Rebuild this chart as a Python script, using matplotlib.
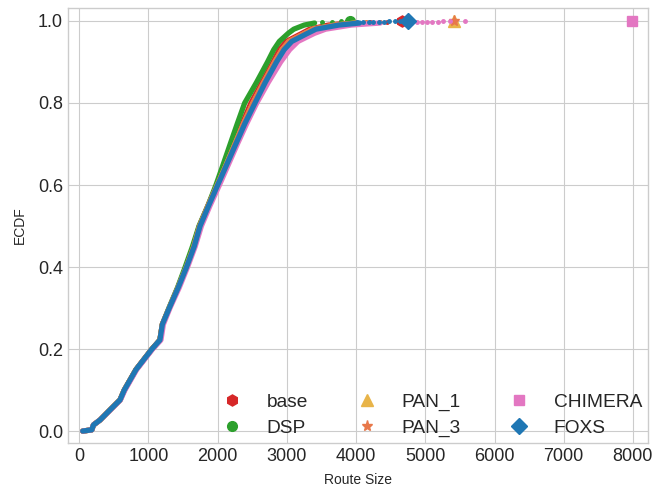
import numpy as np
import matplotlib.pyplot as plt
from matplotlib.lines import Line2D

plt.style.use('seaborn-v0_8-whitegrid')
plt.rcParams['font.family'] = ['Liberation Sans', 'DejaVu Sans']

levels = [0.0, 0.003, 0.015, 0.027, 0.05, 0.076, 0.1, 0.15, 0.2, 0.222, 0.26,
          0.3, 0.35, 0.4, 0.45, 0.5, 0.55, 0.6, 0.65, 0.7, 0.75, 0.8, 0.85,
          0.9, 0.93, 0.95, 0.97, 0.98, 0.99, 0.995]

base_x = [50, 180, 205, 300, 435, 589, 650, 820, 1050, 1165, 1200,
          1300, 1425, 1545, 1650, 1735, 1860, 1990, 2115, 2235, 2355, 2480, 2640,
          2800, 2890, 2990, 3220, 3330, 3600, 3900]
dsp_x = [50, 180, 205, 300, 435, 589, 650, 820, 1050, 1165, 1200,
         1295, 1420, 1530, 1635, 1730, 1860, 1975, 2079, 2181, 2284, 2390, 2560,
         2720, 2810, 2890, 3020, 3100, 3250, 3400]
pan1_x = [50, 180, 205, 300, 435, 589, 650, 820, 1050, 1165, 1200,
          1300, 1428, 1548, 1655, 1740, 1865, 1995, 2125, 2250, 2375, 2510, 2665,
          2825, 2930, 3030, 3260, 3380, 3700, 4000]
pan3_x = [50, 180, 205, 300, 435, 589, 650, 820, 1050, 1165, 1200,
          1300, 1428, 1548, 1655, 1740, 1865, 1995, 2125, 2250, 2375, 2510, 2665,
          2825, 2930, 3030, 3260, 3380, 3700, 4000]
chimera_x = [50, 180, 205, 300, 440, 595, 660, 830, 1060, 1180, 1215,
             1310, 1445, 1565, 1675, 1765, 1890, 2025, 2155, 2285, 2420, 2565, 2730,
             2910, 3040, 3160, 3400, 3560, 3930, 4350]
foxs_x = [50, 180, 205, 300, 435, 589, 650, 820, 1050, 1165, 1200,
          1300, 1430, 1550, 1660, 1745, 1870, 2000, 2131, 2262, 2393, 2539, 2687,
          2850, 2960, 3070, 3300, 3420, 3750, 4050]

# scattered tail points near ECDF = 1 and the last (largest) route
base_tail = [4000, 4200, 4450, 4600]
base_tail_y = [0.996, 0.997, 0.998, 0.999]
base_max = 4670
dsp_tail = [3500, 3650, 3780]
dsp_tail_y = [0.997, 0.998, 0.999]
dsp_max = 3910
pan1_tail = [4150, 4340, 4700]
pan1_tail_y = [0.997, 0.998, 0.999]
pan1_max = 5410
pan3_tail = [4150, 4340, 4700]
pan3_tail_y = [0.997, 0.998, 0.999]
pan3_max = 5410
chimera_tail = [4800, 4880, 4950, 5030, 5100, 5180, 5260, 5350, 5570]
chimera_tail_y = [0.996, 0.9965, 0.997, 0.9975, 0.998, 0.9985, 0.999, 0.9993, 0.9996]
chimera_max = 7980
foxs_tail = [3950, 4020, 4100, 4180, 4250, 4330, 4400, 4480, 4560, 4640]
foxs_tail_y = [0.996, 0.9964, 0.9968, 0.9972, 0.9976, 0.998, 0.9984, 0.9988, 0.9992, 0.9996]
foxs_max = 4745

methods = [
    ('base', base_x, base_tail, base_tail_y, base_max, '#d62728', 'h', 8),
    ('DSP', dsp_x, dsp_tail, dsp_tail_y, dsp_max, '#2ca02c', 'o', 7),
    ('PAN_1', pan1_x, pan1_tail, pan1_tail_y, pan1_max, '#e8b449', '^', 8),
    ('PAN_3', pan3_x, pan3_tail, pan3_tail_y, pan3_max, '#e8784a', '*', 8),
    ('CHIMERA', chimera_x, chimera_tail, chimera_tail_y, chimera_max, '#e377c2', 's', 7),
    ('FOXS', foxs_x, foxs_tail, foxs_tail_y, foxs_max, '#1f77b4', 'D', 8),
]

fig, ax = plt.subplots(figsize=(6.59, 4.9), dpi=100)
fig.subplots_adjust(left=0.103, right=0.983, top=0.984, bottom=0.096)

handles = []
for name, xs, tail, tail_y, xmax, color, marker, ms in methods:
    ax.plot(xs, levels, color=color, lw=3.8, solid_capstyle='round', solid_joinstyle='round')
    ax.plot(tail, tail_y, ls='none', marker='o', ms=2.5, color=color)
    ax.plot([xmax], [1.0], ls='none', marker=marker, ms=ms, color=color)
    handles.append(Line2D([], [], ls='none', marker=marker, ms=ms, color=color, label=name))

ax.set_xlim(-165, 8215)
ax.set_ylim(-0.029, 1.032)
ax.set_xticks(np.arange(0, 8001, 1000))
ax.set_yticks(np.arange(0, 1.01, 0.2))
ax.tick_params(labelsize=13, colors='#262626')
ax.set_xlabel('Route Size', fontsize=10, labelpad=6)
ax.set_ylabel('ECDF', fontsize=10, labelpad=8)
for s in ax.spines.values():
    s.set_visible(True)
    s.set_color('#cccccc')

ax.legend(handles=handles, ncol=3, loc='lower right', fontsize=13.8, frameon=False,
          handlelength=1.0, handletextpad=1.3, columnspacing=2.57, labelspacing=0.45,
          borderaxespad=0.0, borderpad=0.3)

fig.savefig('out.png')
